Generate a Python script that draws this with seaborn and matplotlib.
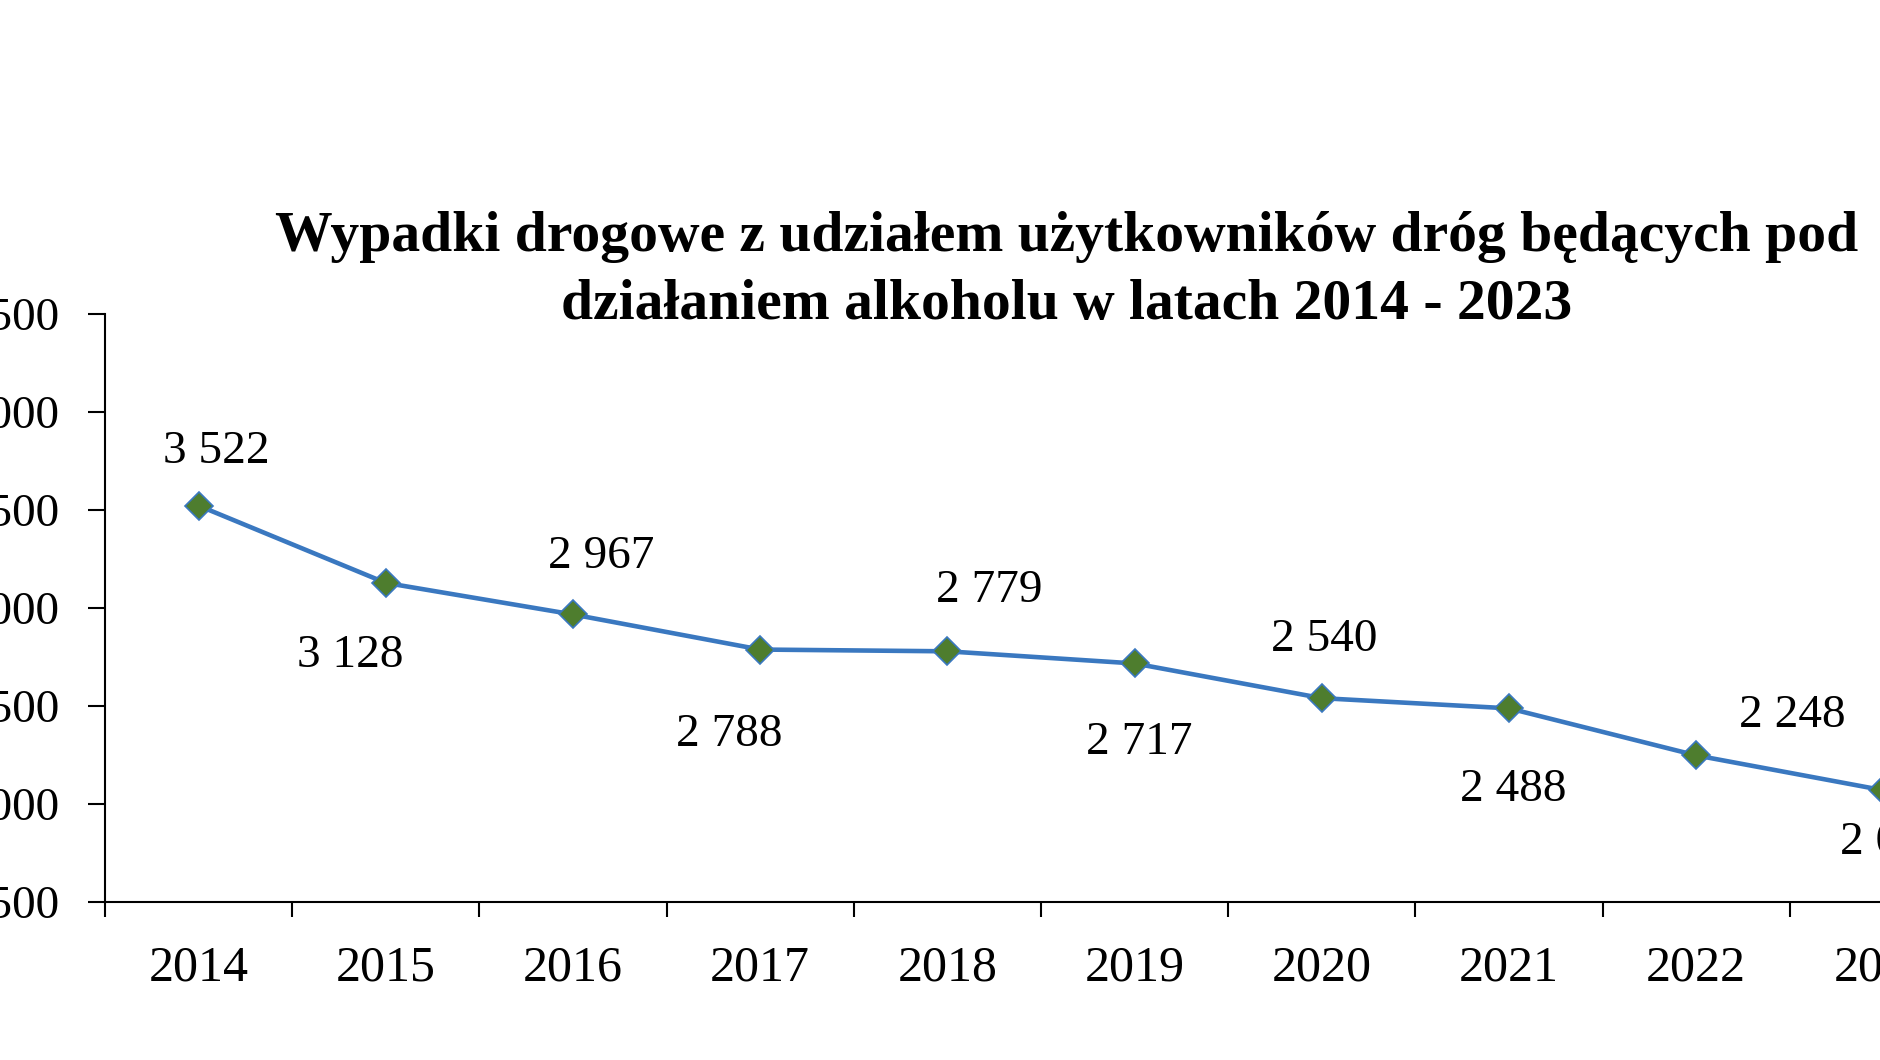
import matplotlib
matplotlib.use("Agg")
import matplotlib.pyplot as plt
import seaborn as sns
import pandas as pd
from matplotlib.ticker import FixedLocator, FuncFormatter

# ---- data ----
years = ["2014", "2015", "2016", "2017", "2018", "2019", "2020", "2021", "2022", "2023"]
accidents = [3522, 3128, 2967, 2788, 2779, 2717, 2540, 2488, 2248, 2070]
y_ticks = [1500, 2000, 2500, 3000, 3500, 4000, 4500]
title = "Wypadki drogowe z udziałem użytkowników dróg będących pod\ndziałaniem alkoholu w latach 2014 - 2023"

# ---- styling (label offsets in pixels) ----
label_dx = [18, -36, 28, -31, 42, 5, 2, 4, 96, 10]
label_dy = [54, -73, 58, -85, 61, -79, 58, -81, 40, -52]

sns.set_theme(style="white")
plt.rcParams["font.family"] = ["Liberation Serif", "DejaVu Serif"]

fig = plt.figure(figsize=(18.8, 10.6), dpi=100)
ax = fig.add_axes([105 / 1880, 1 - 902 / 1060, (1977 - 105) / 1880, (902 - 314) / 1060])

df = pd.DataFrame({"x": list(range(len(years))), "y": accidents})
sns.lineplot(data=df, x="x", y="y", ax=ax, color="#3A78C0", linewidth=3.3,
             marker="D", markersize=14, markerfacecolor="#4E7D2E",
             markeredgecolor="#3A78C0", markeredgewidth=1.2)

ax.set_xlim(-0.5, len(years) - 0.5)
ax.set_ylim(y_ticks[0], y_ticks[-1])
ax.set_xlabel("")
ax.set_ylabel("")

ax.xaxis.set_major_locator(FixedLocator(list(range(len(years)))))
ax.set_xticklabels(years)
ax.xaxis.set_minor_locator(FixedLocator([i - 0.5 for i in range(len(years) + 1)]))
ax.tick_params(axis="x", which="major", length=0, pad=31, labelsize=36, colors="black")
ax.tick_params(axis="x", which="minor", length=11, width=1.5, direction="out", color="black", bottom=True)

ax.set_yticks(y_ticks)
ax.yaxis.set_major_formatter(FuncFormatter(lambda v, p: f"{int(v):,}".replace(",", " ")))
ax.tick_params(axis="y", which="major", length=12, width=1.5, direction="out", pad=21,
               labelsize=34, colors="black", left=True)

for s in ["top", "right"]:
    ax.spines[s].set_visible(False)
for s in ["left", "bottom"]:
    ax.spines[s].set_color("black")
    ax.spines[s].set_linewidth(1.5)

for i, v in enumerate(accidents):
    ax.annotate(f"{v:,}".replace(",", " "), xy=(i, v),
                xytext=(label_dx[i] * 0.72, label_dy[i] * 0.72), textcoords="offset points",
                ha="center", va="center", fontsize=34, color="black", annotation_clip=False)

fig.text(1067 / 1880, 1 - 271 / 1060, title, ha="center", va="center",
         fontsize=41.5, fontweight="bold", color="black", linespacing=1.38)

fig.savefig("out.png", dpi=100, facecolor="white")
